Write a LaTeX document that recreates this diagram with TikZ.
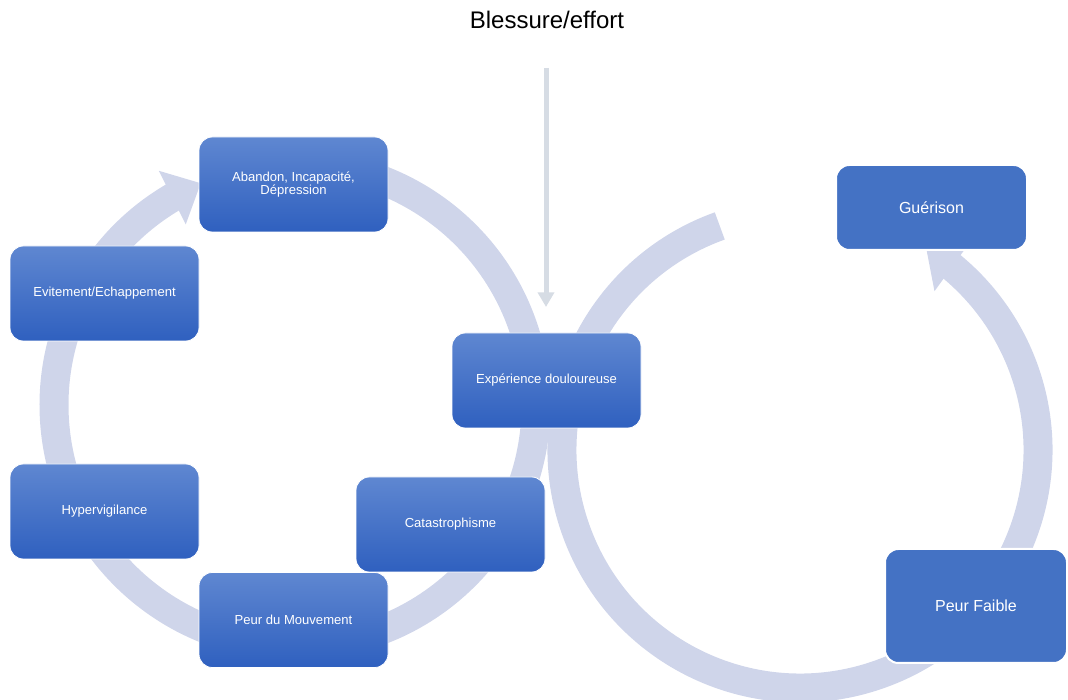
\documentclass[tikz,border=0pt]{standalone}
\usepackage{fontspec}
\setmainfont{Liberation Sans}
\usetikzlibrary{arrows.meta,bending,calc}
\definecolor{bandc}{HTML}{CFD5EA}
\definecolor{vbar}{HTML}{D6DCE4}
\definecolor{boxtop}{HTML}{5F87D1}
\definecolor{boxbot}{HTML}{2F60BF}
\definecolor{boxflat}{HTML}{4472C4}
\begin{document}
\begin{tikzpicture}[x=0.75pt,y=0.75pt,
  gbox/.style={rounded corners=10pt, top color=boxtop, bottom color=boxbot, draw=white, line width=0.6pt,
    minimum width=141.75pt, minimum height=71.25pt, text=white, align=center, inner sep=2pt,
    font=\fontsize{9.8}{10.5}\selectfont},
  fbox/.style={rounded corners=10pt, fill=boxflat, draw=white, line width=1.5pt, text=white,
    align=center, font=\fontsize{12}{14}\selectfont},
  bandarrow/.style={draw=bandc, line width=21.75pt, -{Triangle[width=43.5pt,length=24pt,flex]}},
  vbarrow/.style={draw=vbar, line width=3.75pt, -{Triangle[width=12pt,length=11pt]}}]
\useasboundingbox (0,0) rectangle (1068,700);

% circle centres
\coordinate (cL) at (295,295);
\coordinate (cR) at (800,250);

% circular arrows
\draw[bandarrow] ($(cL)+(455:180.75pt)$) arc[start angle=455, end angle=113, radius=180.75pt];
\draw[bandarrow] ($(cR)+(109.7:178.5pt)$) arc[start angle=109.7, end angle=418, radius=178.5pt];

% title and vertical arrow
\node[font=\fontsize{18}{20}\selectfont] (title) at (547,680) {Blessure/effort};
\coordinate (vtop) at (546,632);
\coordinate (vend) at (546,393);
\draw[vbarrow] (vtop) -- (vend);

% boxes
\node[gbox] (abandon) at (293.5,515.5) {Abandon, Incapacité,\\[-1pt]Dépression};
\node[gbox] (evit) at (104.5,406.5) {Evitement/Echappement};
\node[gbox] (hyper) at (104.5,188.5) {Hypervigilance};
\node[gbox] (peurmvt) at (293.5,80) {Peur du Mouvement};
\node[gbox] (catas) at (450.5,175.5) {Catastrophisme};
\node[gbox] (exp) at (546.5,319.5) {Expérience douloureuse};
\node[fbox, minimum width=143.25pt, minimum height=63.75pt] (guer) at (931.5,492.5) {Guérison};
\node[fbox, minimum width=136.5pt, minimum height=85.5pt] (peurf) at (976,94) {Peur Faible};
\end{tikzpicture}
\end{document}
